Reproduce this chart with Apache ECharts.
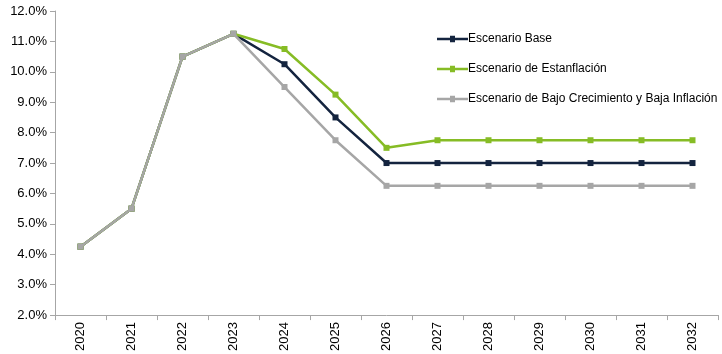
<!DOCTYPE html>
<html>
<head>
<meta charset="utf-8">
<script src="https://cdn.jsdelivr.net/npm/echarts@6/dist/echarts.min.js"></script>
<style>
  html, body { margin: 0; padding: 0; background: #fff; }
  #chart { width: 722px; height: 354px; }
</style>
</head>
<body>
<div id="chart"></div>
<script>
// Years on the category axis
const years = ['2020','2021','2022','2023','2024','2025','2026','2027','2028','2029','2030','2031','2032'];

// Rate path per scenario (%)
const baseScenario    = [4.25, 5.5, 10.5, 11.25, 10.25, 8.5, 7.0, 7.0, 7.0, 7.0, 7.0, 7.0, 7.0];
const stagflation     = [4.25, 5.5, 10.5, 11.25, 10.75, 9.25, 7.5, 7.75, 7.75, 7.75, 7.75, 7.75, 7.75];
const lowGrowthLowInf = [4.25, 5.5, 10.5, 11.25, 9.5, 7.75, 6.25, 6.25, 6.25, 6.25, 6.25, 6.25, 6.25];

const seriesNames = [
  'Escenario Base',
  'Escenario de Estanflación',
  'Escenario de Bajo Crecimiento y Baja Inflación'
];
const seriesColors = ['#14243f', '#86bc25', '#a6a6a6'];
const seriesData = [baseScenario, stagflation, lowGrowthLowInf];

const font = 'Liberation Sans, Arial, sans-serif';
const axisGray = '#a6a6a6';

// Legend glyph: thin line with a small square marker in the middle
const legendIcon = 'path://M0,2 L13,2 L13,0 L18,0 L18,2 L31,2 L31,4.5 L18,4.5 L18,6.5 L13,6.5 L13,4.5 L0,4.5 Z';

const chart = echarts.init(document.getElementById('chart'), null, { renderer: 'canvas' });

chart.setOption({
  animation: false,
  backgroundColor: '#ffffff',
  grid: { left: 55, right: 4, top: 11, bottom: 38, containLabel: false },
  legend: {
    orient: 'vertical',
    left: 432,
    top: 28,
    itemGap: 18,
    itemWidth: 31,
    itemHeight: 6.5,
    icon: legendIcon,
    textStyle: { fontFamily: font, fontSize: 12, color: '#000', padding: [0, 0, 0, -5] },
    data: seriesNames
  },
  xAxis: {
    type: 'category',
    data: years,
    boundaryGap: true,
    axisLine: { lineStyle: { color: axisGray, width: 1 } },
    axisTick: { show: true, length: 5, lineStyle: { color: axisGray } },
    axisLabel: {
      rotate: 90,
      fontFamily: font,
      fontSize: 13,
      color: '#000',
      margin: 7
    },
    splitLine: { show: false }
  },
  yAxis: {
    type: 'value',
    min: 2,
    max: 12,
    interval: 1,
    axisLine: { show: true, lineStyle: { color: axisGray, width: 1 } },
    axisTick: { show: true, length: 5, inside: false, lineStyle: { color: axisGray } },
    axisLabel: {
      fontFamily: font,
      fontSize: 13,
      color: '#000',
      margin: 8,
      formatter: v => v.toFixed(1) + '%'
    },
    splitLine: { show: false }
  },
  series: seriesNames.map((name, i) => ({
    name,
    type: 'line',
    data: seriesData[i],
    symbol: 'rect',
    symbolSize: 6,
    showAllSymbol: true,
    lineStyle: { color: seriesColors[i], width: 2.5 },
    itemStyle: { color: seriesColors[i] },
    z: 2 + i
  }))
});
</script>
</body>
</html>
